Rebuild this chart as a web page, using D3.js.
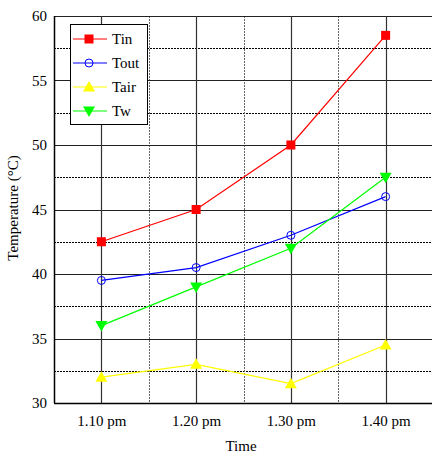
<!DOCTYPE html>
<html><head><meta charset="utf-8">
<script src="https://cdn.jsdelivr.net/npm/d3@7"></script>
<style>body{margin:0;background:#fff}svg{display:block}text{font-family:"Liberation Serif","Times New Roman",serif}</style>
</head><body>
<svg id="c" width="432" height="455"></svg>
<script>
const categories = ["1.10 pm","1.20 pm","1.30 pm","1.40 pm"];
const Tin  = [42.5, 45, 50, 58.5];
const Tout = [39.5, 40.5, 43, 46];
const Tair = [32, 33, 31.5, 34.5];
const Tw   = [36, 39, 42, 47.5];
const yTicks = [30,35,40,45,50,55,60];
const yMinor = [32.5,37.5,42.5,47.5,52.5,57.5];

const series = [
  {name:"Tin", values:Tin, color:"#ff0000", marker:"square"},
  {name:"Tout", values:Tout, color:"#0000ff", marker:"circle"},
  {name:"Tair", values:Tair, color:"#ffff00", marker:"up"},
  {name:"Tw", values:Tw, color:"#00ff00", marker:"down"}
];

const svg = d3.select("#c");
const L=54, T=16, R=433, B=403;
const x = d3.scaleLinear().domain([0.5,4.5]).range([L,R]);
const y = d3.scaleLinear().domain([30,60]).range([B,T]);

const g = svg.append("g");
g.selectAll(".hm").data(yMinor).enter().append("line")
  .attr("x1",L).attr("x2",R).attr("y1",d=>Math.round(y(d))+0.5).attr("y2",d=>Math.round(y(d))+0.5)
  .attr("stroke","#000").attr("stroke-width",1).attr("stroke-dasharray","2,1");
g.selectAll(".vm").data([1.5,2.5,3.5]).enter().append("line")
  .attr("y1",T).attr("y2",B).attr("x1",d=>Math.round(x(d))+0.5).attr("x2",d=>Math.round(x(d))+0.5)
  .attr("stroke","#666").attr("stroke-width",1).attr("stroke-dasharray","2,1");
g.selectAll(".hM").data(yTicks).enter().append("line")
  .attr("x1",L).attr("x2",R).attr("y1",d=>Math.round(y(d))+0.5).attr("y2",d=>Math.round(y(d))+0.5)
  .attr("stroke","#222").attr("stroke-width",1.2);
g.selectAll(".vM").data([1,2,3,4]).enter().append("line")
  .attr("y1",T).attr("y2",B).attr("x1",d=>Math.round(x(d))+0.5).attr("x2",d=>Math.round(x(d))+0.5)
  .attr("stroke","#333").attr("stroke-width",1.2);
g.append("line").attr("x1",L+0.5).attr("x2",L+0.5).attr("y1",T).attr("y2",B).attr("stroke","#000").attr("stroke-width",1.5);
g.append("line").attr("x1",L).attr("x2",R).attr("y1",B+0.5).attr("y2",B+0.5).attr("stroke","#000").attr("stroke-width",1.5);

const yAxis = svg.append("g").attr("transform",`translate(${L},0)`)
  .call(d3.axisLeft(y).tickValues(yTicks).tickSize(0).tickPadding(7).tickFormat(d3.format("d")));
yAxis.select(".domain").remove();
yAxis.selectAll("text").attr("font-size",15).attr("font-family","Liberation Serif").attr("fill","#000");
const xAxis = svg.append("g").attr("transform",`translate(0,${B})`)
  .call(d3.axisBottom(x).tickValues([1,2,3,4]).tickSize(0).tickPadding(12).tickFormat(d=>categories[d-1]));
xAxis.select(".domain").remove();
xAxis.selectAll("text").attr("font-size",15).attr("font-family","Liberation Serif").attr("fill","#000");

svg.append("text").attr("x",241).attr("y",451).attr("text-anchor","middle").attr("font-size",15).text("Time");
svg.append("text").attr("transform","translate(18,208) rotate(-90)").attr("text-anchor","middle").attr("font-size",15).text("Temperature (°C)");

function drawMarker(sel, type, color, cx, cy){
  if(type==="square") sel.append("rect").attr("x",cx-4.5).attr("y",cy-4.5).attr("width",9).attr("height",9).attr("fill",color);
  else if(type==="circle") sel.append("circle").attr("cx",cx).attr("cy",cy).attr("r",4).attr("fill","none").attr("stroke",color).attr("stroke-width",1);
  else if(type==="up") sel.append("path").attr("d",`M${cx},${cy-6}L${cx+6},${cy+4.5}L${cx-6},${cy+4.5}Z`).attr("fill",color);
  else sel.append("path").attr("d",`M${cx},${cy+6}L${cx+6},${cy-4.5}L${cx-6},${cy-4.5}Z`).attr("fill",color);
}

const line = d3.line().x((d,i)=>x(i+1)).y(d=>y(d));
series.forEach(s=>{
  const sg = svg.append("g");
  sg.append("path").attr("d",line(s.values)).attr("fill","none").attr("stroke",s.color).attr("stroke-width",1.2);
  s.values.forEach((v,i)=>drawMarker(sg,s.marker,s.color,x(i+1),y(v)));
});

const lg = svg.append("g");
lg.append("rect").attr("x",70.5).attr("y",24.5).attr("width",77).attr("height",100).attr("fill","#fff").attr("stroke","#000").attr("stroke-width",1);
series.forEach((s,i)=>{
  const cy = 39 + i*24;
  lg.append("line").attr("x1",73).attr("x2",107).attr("y1",cy).attr("y2",cy).attr("stroke",s.color).attr("stroke-width",1.2);
  drawMarker(lg,s.marker,s.color,89,cy);
  lg.append("text").attr("x",112).attr("y",cy+5).attr("font-size",15).text(s.name);
});
</script>
</body></html>
